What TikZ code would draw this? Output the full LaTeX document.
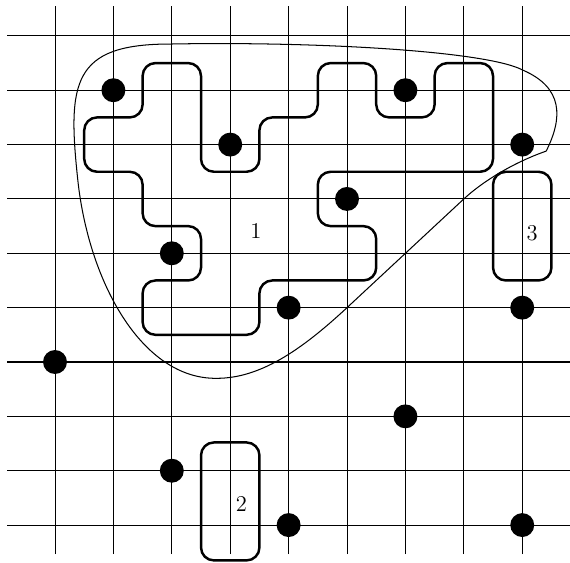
\documentclass[tikz,border=0pt]{standalone}
\usetikzlibrary{calc}

\begin{document}
\begin{tikzpicture}[
    x=1cm, y=0.9307cm,
    gridline/.style={line width=0.5pt},
    regionline/.style={line width=1.2pt, rounded corners=2.2mm},
    boundline/.style={line width=0.5pt},
    stone/.style={fill=black},
    lbl/.style={font=\fontsize{11}{13}\selectfont, inner sep=0pt},
]

\path[use as bounding box] (-0.942,-0.681) rectangle (8.818,9.66);

% ════════════════════════════════════════════════════════
% 0. GRID
% ════════════════════════════════════════════════════════
\foreach \i in {0,...,8}
    \draw[gridline] (\i,-0.534) -- (\i,9.555);
\foreach \j in {0,...,9}
    \draw[gridline] (-0.822,\j) -- (8.818,\j);

% ════════════════════════════════════════════════════════
% 1. THIN BOUNDARY CURVE (kink at the right end)
% ════════════════════════════════════════════════════════
\draw[boundline] (8.41,6.88)
    .. controls (7.9,6.69) and (7.35,6.35) .. (7,6)
    -- (5,4)
    .. controls (4.2,3.2) and (3.5,2.70) .. (2.77,2.70)
    .. controls (1.5,2.68) and (0.58,4.45) .. (0.39,6.35)
    .. controls (0.21,8.15) and (0.3,8.85) .. (1.97,8.85)
    .. controls (4.5,8.9) and (7.4,8.72) .. (8.01,8.37)
    .. controls (8.7,8.05) and (8.7,7.5) .. (8.41,6.88);

% ════════════════════════════════════════════════════════
% 2. REGION 1 (thick outline on the half grid)
% ════════════════════════════════════════════════════════
\draw[regionline]
    (1.5,8.5) -- (2.5,8.5) -- (2.5,6.5) -- (3.5,6.5) -- (3.5,7.5)
    -- (4.5,7.5) -- (4.5,8.5) -- (5.5,8.5) -- (5.5,7.5) -- (6.5,7.5)
    -- (6.5,8.5) -- (7.5,8.5) -- (7.5,6.5) -- (4.5,6.5) -- (4.5,5.5)
    -- (5.5,5.5) -- (5.5,4.5) -- (3.5,4.5) -- (3.5,3.5) -- (1.5,3.5)
    -- (1.5,4.5) -- (2.5,4.5) -- (2.5,5.5) -- (1.5,5.5) -- (1.5,6.5)
    -- (0.5,6.5) -- (0.5,7.5) -- (1.5,7.5) -- cycle;

% ── Regions 2 and 3
\draw[regionline] (2.5,-0.65) rectangle (3.5,1.52);
\draw[regionline] (7.5,4.5) rectangle (8.5,6.5);

% ── Region labels
\node[lbl] (reg1) at (3.44,5.41) {1};
\node[lbl] (reg2) at (3.19,0.39) {2};
\node[lbl] (reg3) at (8.17,5.37) {3};

% ════════════════════════════════════════════════════════
% 3. STONES
% ════════════════════════════════════════════════════════
\foreach \x/\y in {1/8, 3/7, 6/8, 8/7, 5/6, 2/5, 4/4, 8/4,
                   0/3, 6/2, 2/1, 4/0, 8/0}
    \fill[stone] (\x,\y) circle (2.05mm);

\end{tikzpicture}
\end{document}
